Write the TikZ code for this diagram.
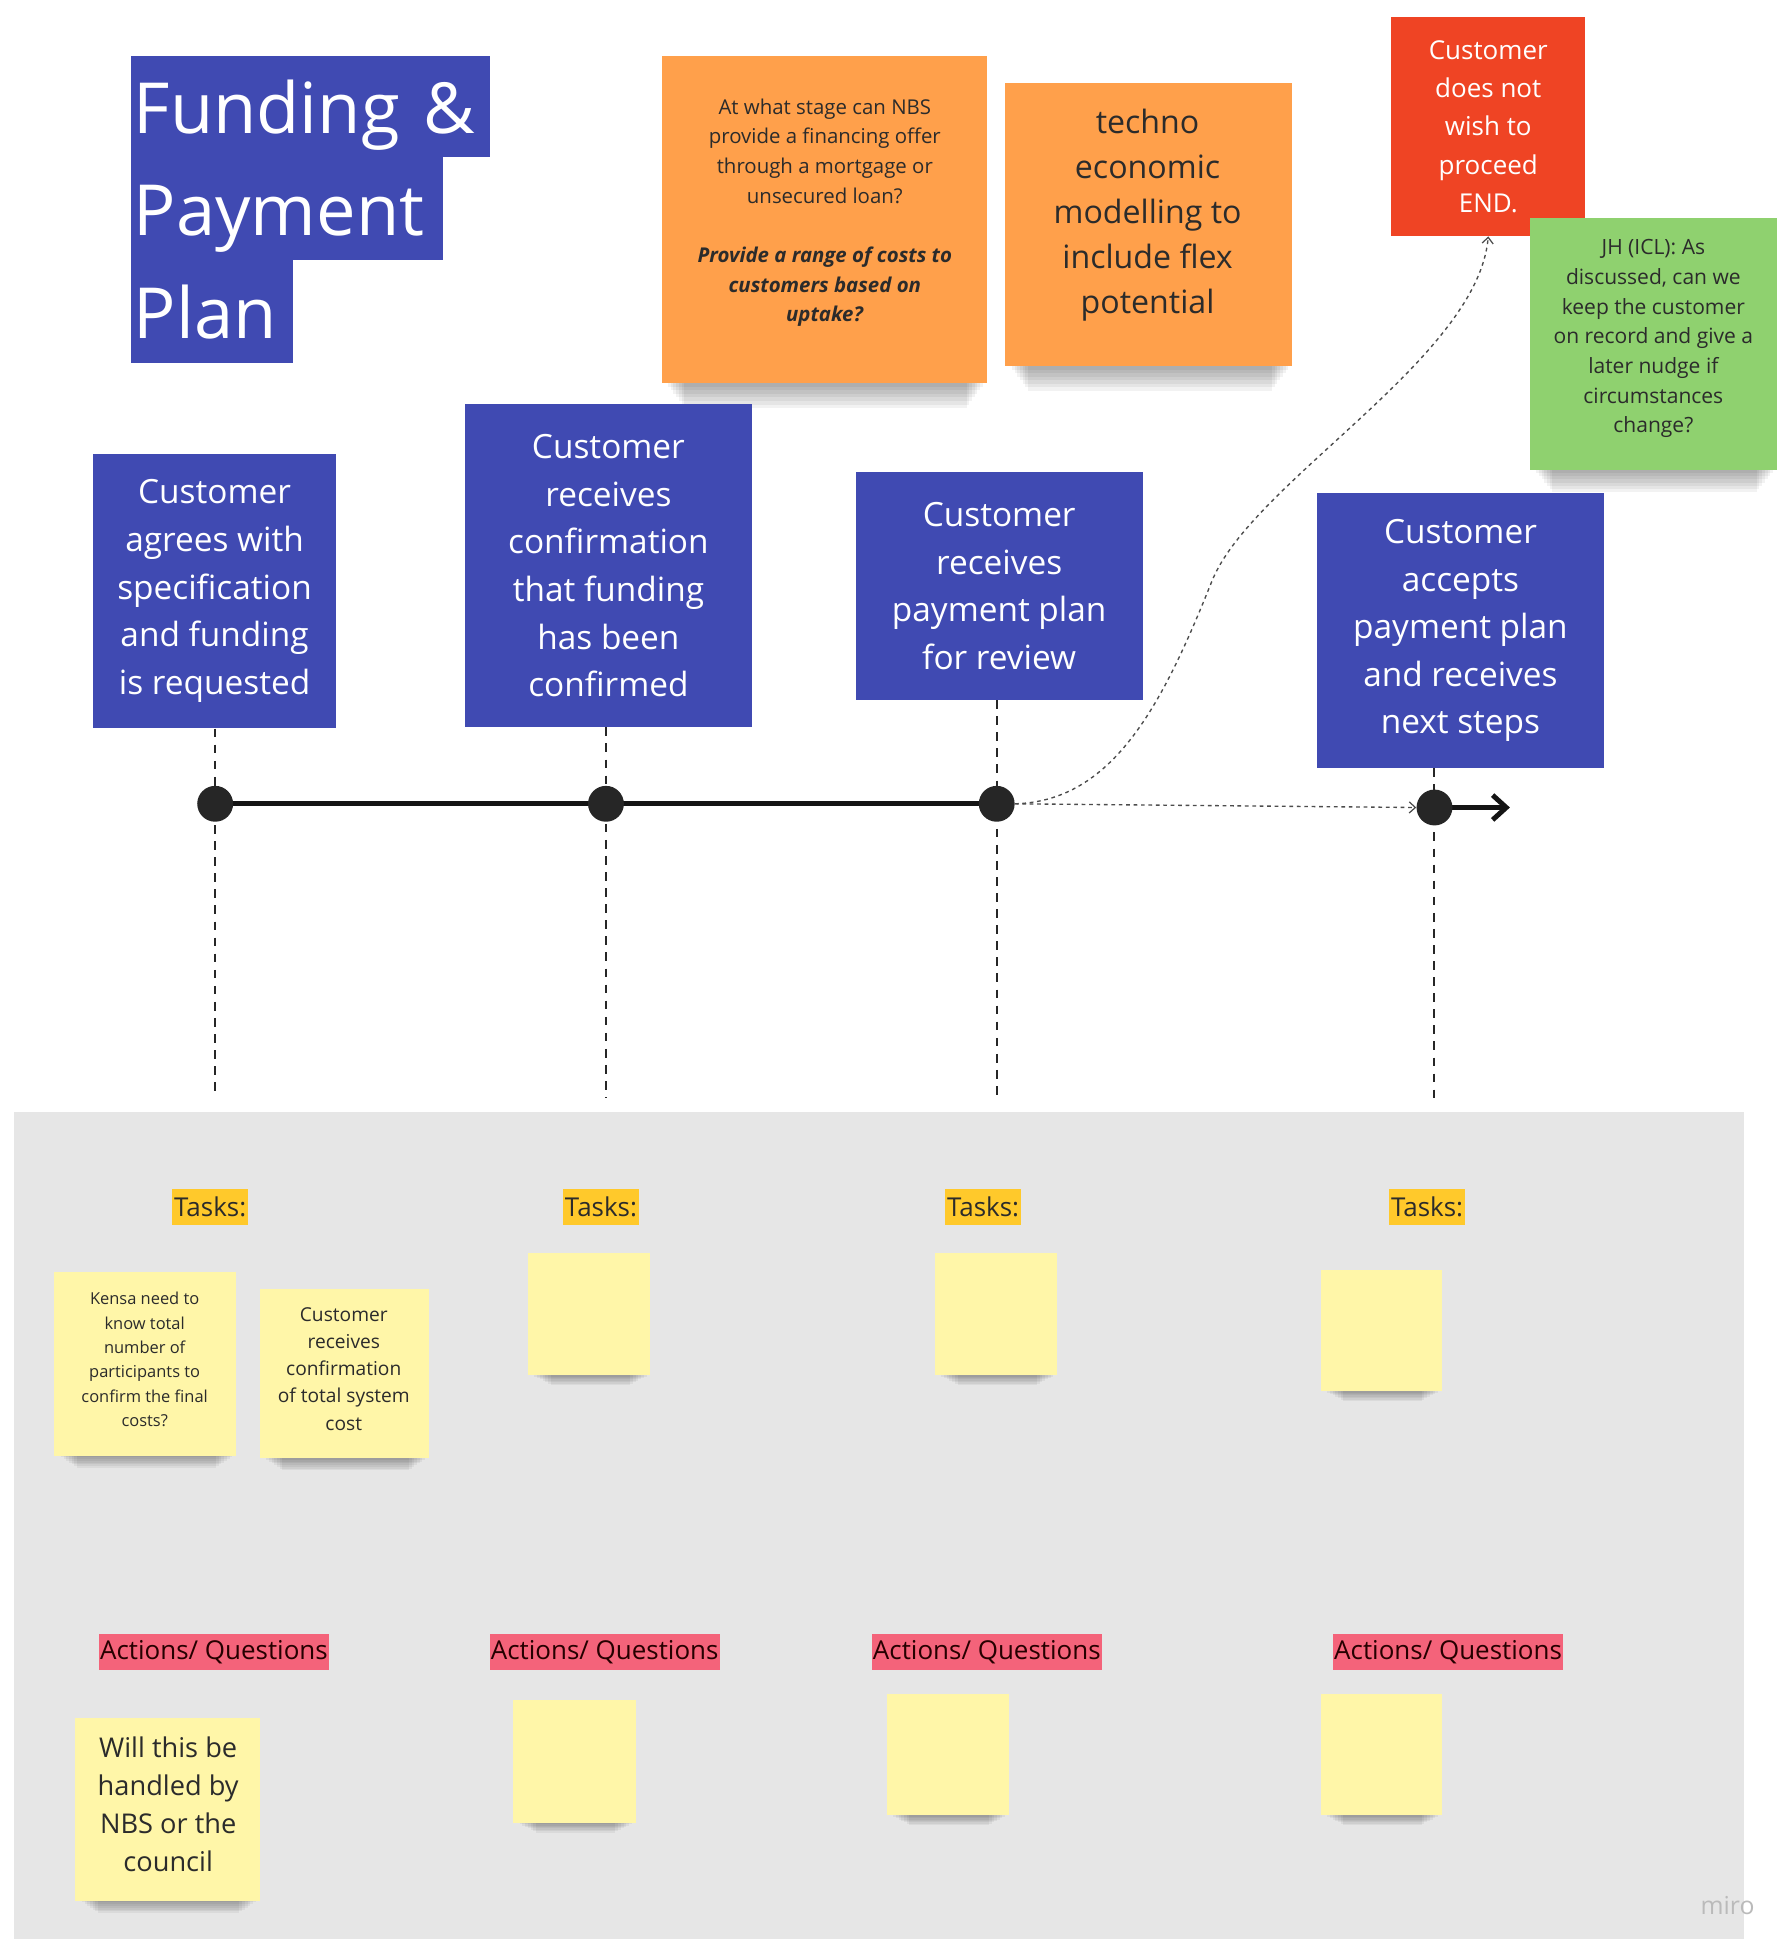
\documentclass[tikz,border=0pt]{standalone}
\usepackage{fontspec}
\setmainfont{Open Sans}
\usetikzlibrary{arrows.meta}

\definecolor{stageblue}{HTML}{404AB2}
\definecolor{noteorange}{HTML}{FFA04B}
\definecolor{endred}{HTML}{EF4424}
\definecolor{notegreen}{HTML}{8FD16F}
\definecolor{noteyellow}{HTML}{FFF6A8}
\definecolor{taskgold}{HTML}{FFC92B}
\definecolor{actionpink}{HTML}{F4637A}
\definecolor{panelgrey}{HTML}{E6E6E6}
\definecolor{inkdark}{HTML}{2B2B2B}
\definecolor{linedark}{HTML}{262626}

% type sizes (in board pixels)
\newcommand\fsTitle{\fontsize{57}{82}\selectfont}
\newcommand\fsStage{\fontsize{27}{38.5}\selectfont}
\newcommand\fsOrangeA{\fontsize{16.5}{24}\selectfont}
\newcommand\fsOrangeB{\fontsize{26}{36.5}\selectfont}
\newcommand\fsEnd{\fontsize{21}{31}\selectfont}
\newcommand\fsGreen{\fontsize{17}{24}\selectfont}
\newcommand\fsLabel{\fontsize{21}{25}\selectfont}
\newcommand\fsKensa{\fontsize{13.3}{19.7}\selectfont}
\newcommand\fsConfirm{\fontsize{15.5}{22}\selectfont}
\newcommand\fsWill{\fontsize{22}{30.5}\selectfont}
\newcommand\fsMiro{\fontsize{20}{24}\selectfont}

\pgfdeclarelayer{back}
\pgfsetlayers{back,main}

% a sticky note with a soft shadow under its lower edge:
% name, x1, y1, x2, y2, colour, shadow depth
\newcommand\stickynote[7]{%
  \foreach \k in {1,...,7}{%
    \fill[black,opacity=.05]
      ({#2+3+2.2*\k},{#5}) rectangle ({#4-1-2.2*\k},{#5+#7*\k/7});
  }
  \node[notebody, fill=#6, minimum width={(#4-#2)*1pt},
        minimum height={(#5-#3)*1pt}] (#1) at ({(#2+#4)/2},{(#3+#5)/2}) {};
}

\begin{document}
\begin{tikzpicture}[
  x=1pt, y=-1pt,
  titlerow/.style={anchor=north west, fill=stageblue, text=white, font=\fsTitle,
    align=left, inner xsep=2pt, inner ysep=0pt, text height=56pt, text depth=12pt},
  stage/.style={fill=stageblue, text=white, font=\fsStage, align=center, inner sep=0pt},
  notebody/.style={inner sep=0pt, draw=none},
  notetext/.style={text=inkdark, align=center, inner sep=0pt},
  endbox/.style={fill=endred, text=white, font=\fsEnd, align=center, inner sep=0pt},
  dot/.style={circle, fill=linedark, minimum size=29pt, inner sep=0pt},
  vdash/.style={draw=linedark, line width=1.6pt, dash pattern=on 7pt off 6pt},
  timeline/.style={draw=black!92, line width=4pt},
  flow/.style={draw=black!70, line width=1.1pt, dash pattern=on 3pt off 3pt},
  tasklabel/.style={fill=taskgold, text=inkdark, font=\fsLabel, inner xsep=1.5pt,
    inner ysep=0pt, minimum height=29pt},
  actionlabel/.style={fill=actionpink, text=black!85!red, font=\fsLabel, inner xsep=1pt,
    inner ysep=0pt, minimum height=29pt},
]
% canvas and lower panel
\useasboundingbox (0,0) rectangle (1437,1568);
\begin{pgfonlayer}{back}
  \fill[white] (0,0) rectangle (1437,1568);
  \fill[panelgrey] (11,899) rectangle (1410,1568);
\end{pgfonlayer}

% heading
\node[titlerow, minimum width=290pt, minimum height=82pt, text width=286pt] (title1) at (106,45) {Funding \&};
\node[titlerow, minimum width=252pt, minimum height=83pt, text width=248pt] (title2) at (106,127) {Payment};
\node[titlerow, minimum width=131pt, minimum height=83pt, text width=127pt] (title3) at (106,210) {Plan};

% orange notes
\stickynote{o1}{535}{45}{798}{310}{noteorange}{20}
\node[notetext, font=\fsOrangeA] (o1t) at (667,172) {At what stage can NBS\\provide a financing offer\\through a mortgage or\\unsecured loan?\\[24pt]\textbf{\textit{Provide a range of costs to}}\\\textbf{\textit{customers based on}}\\\textbf{\textit{uptake?}}};
\stickynote{o2}{813}{67}{1045}{296}{noteorange}{20}
\node[notetext, font=\fsOrangeB] (o2t) at (928,174) {techno\\economic\\modelling to\\include flex\\potential};

% end of journey and comment
\node[endbox, minimum width=157pt, minimum height=177pt] (red) at (1203.5,102.5) {Customer\\does not\\wish to\\proceed\\END.};
\stickynote{gr}{1237}{176}{1437}{380}{notegreen}{18}
\node[notetext, font=\fsGreen] (grt) at (1337,274) {JH (ICL): As\\discussed, can we\\keep the customer\\on record and give a\\later nudge if\\circumstances\\change?};

% stages
\node[stage, minimum width=197pt, minimum height=222pt] (b1) at (173.5,478) {Customer\\agrees with\\specification\\and funding\\is requested};
\node[stage, minimum width=232pt, minimum height=261pt] (b2) at (492,457.5) {Customer\\receives\\confirmation\\that funding\\has been\\confirmed};
\node[stage, minimum width=232pt, minimum height=184pt] (b3) at (808,474) {Customer\\receives\\payment plan\\for review};
\node[stage, minimum width=232pt, minimum height=222pt] (b4) at (1181,510) {Customer\\accepts\\payment plan\\and receives\\next steps};

% timeline points
\node[dot] (d1) at (174,650) {};
\node[dot] (d2) at (490,650) {};
\node[dot] (d3) at (806,650) {};
\node[dot] (d4) at (1160,653) {};
\coordinate (v1) at (174,888);
\coordinate (v2) at (490,888);
\coordinate (v3) at (806,888);
\coordinate (v4) at (1160,889);
\coordinate (tip) at (1221,653);
\coordinate (bend) at (980,470);

\begin{pgfonlayer}{back}
  \draw[vdash] (d1 |- b1.south) -- (v1);
  \draw[vdash] (d2 |- b2.south) -- (v2);
  \draw[vdash] (d3 |- b3.south) -- (v3);
  \draw[vdash] (d4 |- b4.south) -- (v4);
  \draw[timeline] (d1.center) -- (d3.center);
  \draw[timeline, -{Straight Barb[length=11pt,width=20pt]}] (d4.center) -- (tip);
\end{pgfonlayer}

% alternative routes from the payment plan review
\draw[flow, -{Straight Barb[length=5pt,width=9pt,line width=1pt]}] (d3.east) -- (d4.west);
\draw[flow, -{Straight Barb[length=5pt,width=9pt,line width=1pt]}] (d3.east)
  .. controls (900,648) and (940,570) .. (bend)
  .. controls (1012,390) and (1195,290) .. (red.south);

% tasks row
\node[tasklabel] (tk1) at (170,976) {Tasks:};
\node[tasklabel] (tk2) at (486,976) {Tasks:};
\node[tasklabel] (tk3) at (795,976) {Tasks:};
\node[tasklabel] (tk4) at (1154,976) {Tasks:};

\stickynote{t1a}{44}{1029}{191}{1177}{noteyellow}{10}
\node[notetext, font=\fsKensa] (t1at) at (117,1099.5) {Kensa need to\\know total\\number of\\participants to\\confirm the final\\costs?};
\stickynote{t1b}{210}{1042}{347}{1179}{noteyellow}{10}
\node[notetext, font=\fsConfirm] (t1bt) at (278,1107) {Customer\\receives\\confirmation\\of total system\\cost};
\stickynote{t2}{427}{1013}{526}{1112}{noteyellow}{8}
\stickynote{t3}{756}{1013}{855}{1112}{noteyellow}{8}
\stickynote{t4}{1068}{1027}{1166}{1125}{noteyellow}{8}

% actions / questions row
\node[actionlabel] (aq1) at (173,1336) {Actions/ Questions};
\node[actionlabel] (aq2) at (489,1336) {Actions/ Questions};
\node[actionlabel] (aq3) at (798,1336) {Actions/ Questions};
\node[actionlabel] (aq4) at (1171,1336) {Actions/ Questions};

\stickynote{a1}{61}{1389}{210}{1537}{noteyellow}{10}
\node[notetext, font=\fsWill] (a1t) at (136,1459) {Will this be\\handled by\\NBS or the\\council};
\stickynote{a2}{415}{1375}{514}{1474}{noteyellow}{8}
\stickynote{a3}{717}{1370}{816}{1468}{noteyellow}{8}
\stickynote{a4}{1068}{1370}{1166}{1468}{noteyellow}{8}

% board watermark
\node[text=black!27, font=\fsMiro] (wm) at (1397,1541) {miro};
\end{tikzpicture}
\end{document}
